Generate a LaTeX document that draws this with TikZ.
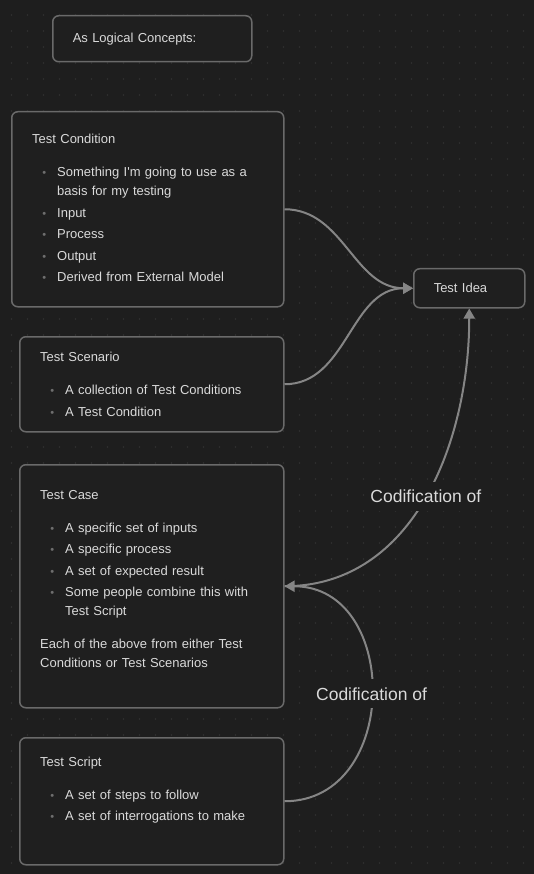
\documentclass[tikz,border=0pt]{standalone}
\usepackage{fontspec}
\setmainfont{Liberation Sans}
\usepackage{xcolor}
\usetikzlibrary{arrows.meta, calc}

\definecolor{canvasbg}{HTML}{1E1E1E}
\definecolor{gridgray}{HTML}{313131}
\definecolor{cardfill}{HTML}{1F1F1F}
\definecolor{cardline}{HTML}{6A6A6A}
\definecolor{linkgray}{HTML}{858585}
\definecolor{textgray}{HTML}{DADADA}
\definecolor{bulletgray}{HTML}{6E6E6E}

\newenvironment{cardlist}{%
  \begin{list}{\textcolor{bulletgray}{\fontsize{11}{11}\selectfont\textbullet}}{%
    \setlength{\leftmargin}{25pt}\setlength{\labelwidth}{12pt}%
    \setlength{\labelsep}{11pt}\setlength{\itemsep}{2.5pt}%
    \setlength{\parsep}{0pt}\setlength{\topsep}{14pt}\setlength{\partopsep}{0pt}}}%
  {\end{list}}

\begin{document}
\begin{tikzpicture}[x=1pt, y=1pt,
    card/.style={draw=cardline, fill=cardfill, line width=1.5pt, rounded corners=6pt, anchor=north west,
      inner xsep=20pt, align=left, text=textgray, font=\fontsize{13}{19}\selectfont},
    cardtext/.style={anchor=base west, inner sep=0pt, text width=245pt, align=left, text=textgray,
      font=\fontsize{13}{19}\selectfont},
    link/.style={draw=linkgray, line width=2pt, -{Triangle[length=10pt, width=11pt]}},
    linklabel/.style={fill=canvasbg, text=textgray, inner xsep=4pt, inner ysep=8pt,
      font=\fontsize{17.5}{20}\selectfont}]
    % Canvas
    \useasboundingbox (0,0) rectangle (534,-874);
    \fill[canvasbg] (0,0) rectangle (534,-874);
    \foreach \i in {0,...,32}
      \foreach \j in {0,...,53}
        \fill[gridgray] (11.5+16*\i, -15-16*\j) circle (0.9);

    % Cards
    \node[card, minimum width=199pt, minimum height=46pt, text width=159pt] (header) at (52,-15) {As Logical Concepts:};
    \node[card, minimum width=272pt, minimum height=195pt] (cond) at (11,-111) {};
    \node[card, minimum width=264pt, minimum height=95pt] (scen) at (19,-336) {};
    \node[card, minimum width=111pt, minimum height=39pt, text width=71pt] (idea) at (413,-268) {Test Idea};
    \node[card, minimum width=264pt, minimum height=243pt] (case) at (19,-464) {};
    \node[card, minimum width=264pt, minimum height=127pt] (script) at (19,-737) {};

    % Card contents
    \node[cardtext] (condtext) at ([shift={(21,-32.7)}]cond.north west) {Test Condition
      \begin{cardlist}
        \item Something I\textquotesingle m going to use as a\newline basis for my testing
        \item Input
        \item Process
        \item Output
        \item Derived from External Model
      \end{cardlist}};
    \node[cardtext] (scentext) at ([shift={(21,-25.7)}]scen.north west) {Test Scenario
      \begin{cardlist}
        \item A collection of Test Conditions
        \item A Test Condition
      \end{cardlist}};
    \node[cardtext] (casetext) at ([shift={(21,-35)}]case.north west) {Test Case
      \begin{cardlist}
        \item A specific set of inputs
        \item A specific process
        \item A set of expected result
        \item Some people combine this with\newline Test Script
      \end{cardlist}
      Each of the above from either Test\newline Conditions or Test Scenarios};
    \node[cardtext] (scripttext) at ([shift={(21,-29.4)}]script.north west) {Test Script
      \begin{cardlist}
        \item A set of steps to follow
        \item A set of interrogations to make
      \end{cardlist}};

    % Links
    \draw[link] (cond.east) to[out=0, in=180] (idea.west);
    \draw[link] (scen.east) to[out=0, in=180] (idea.west);
    \draw[link] (case.east) to[out=0, in=-90] node[linklabel] {Codification of} (idea.south);
    \draw[link] (script.east) to[out=0, in=0, looseness=1.385] node[linklabel] {Codification of} (case.east);
\end{tikzpicture}
\end{document}
